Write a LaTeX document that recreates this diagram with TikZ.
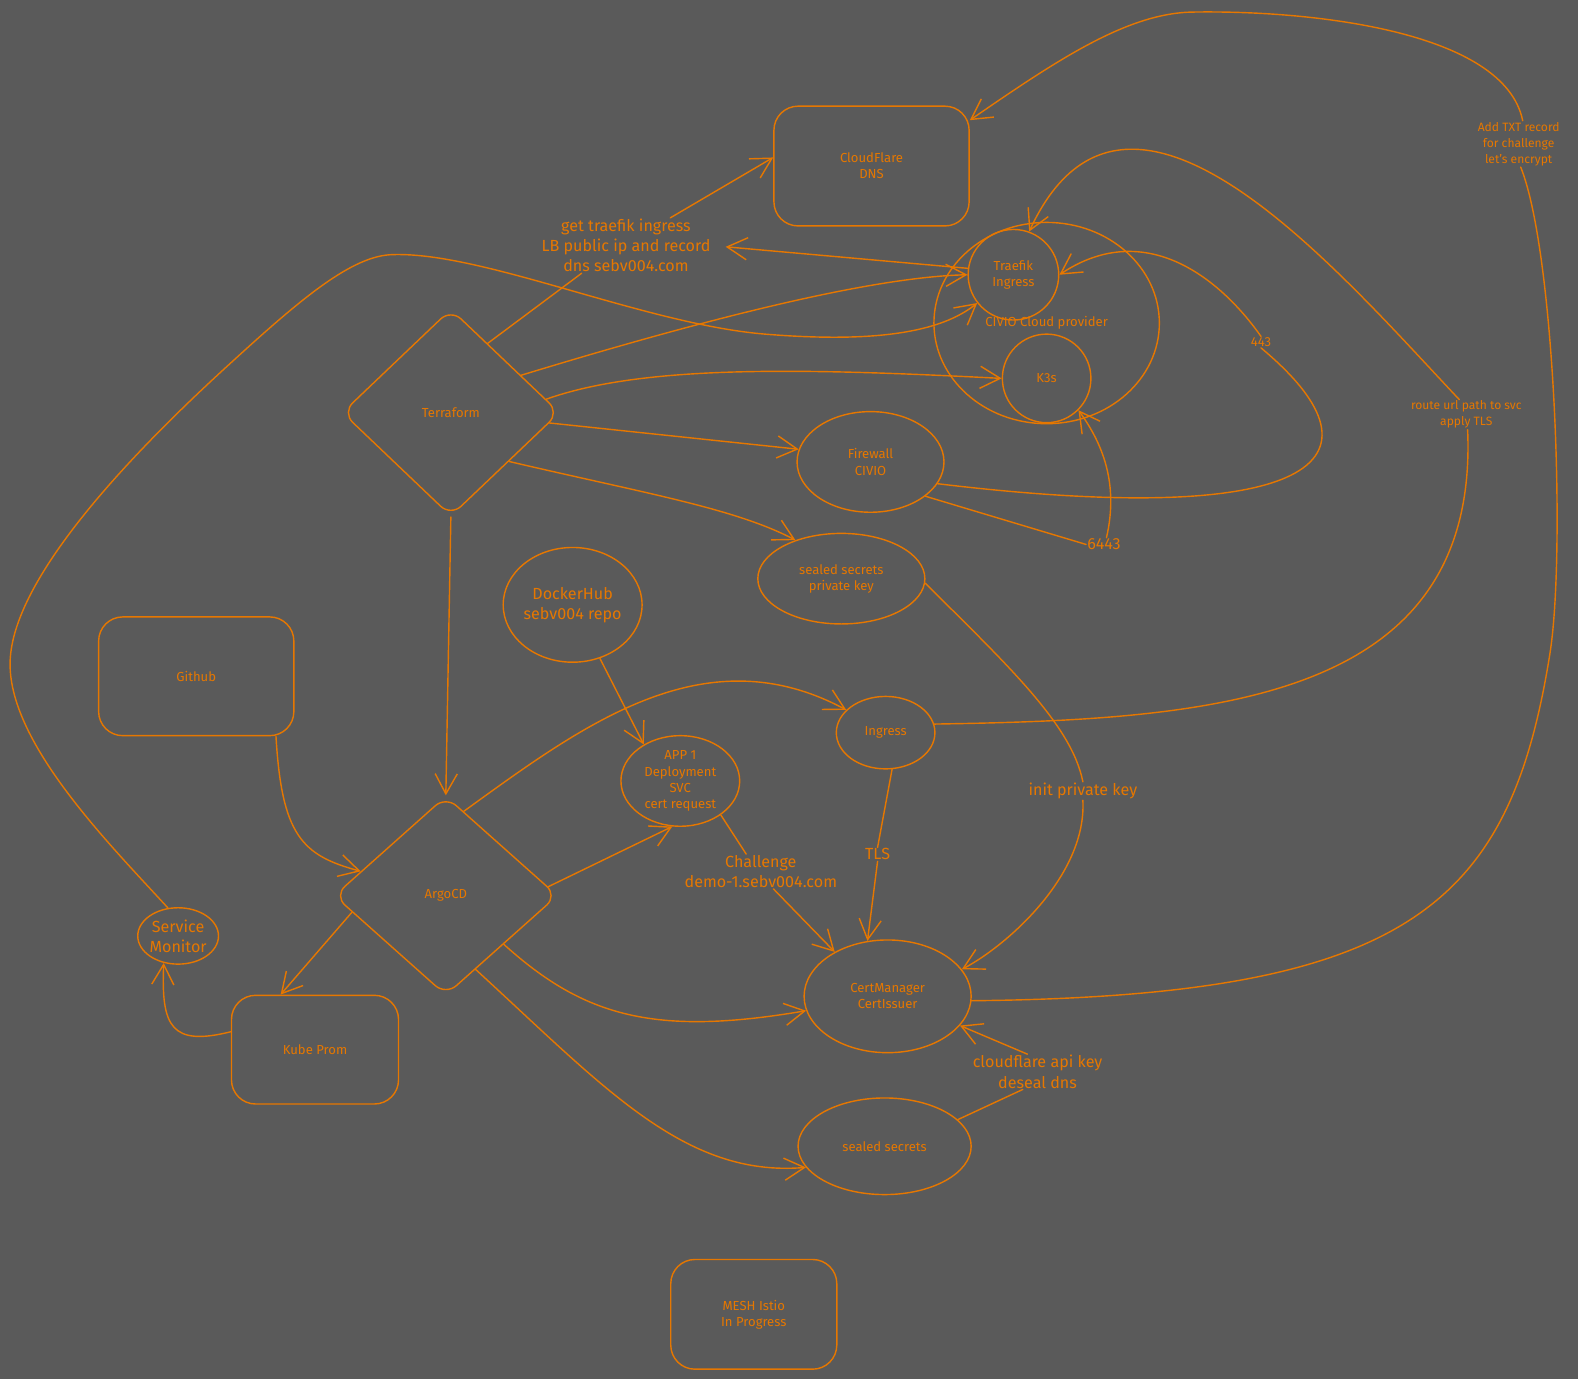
\documentclass[tikz,border=0pt]{standalone}
\usepackage{fontspec}
\setmainfont{Fira Sans}
\usepackage{tikz}
\usetikzlibrary{arrows.meta,positioning,shapes.geometric}
\definecolor{bakgrunn}{HTML}{5A5A5A}
\definecolor{oransje}{HTML}{E67700}
\newcommand\litenfont{\fontsize{13}{16}\selectfont}
\newcommand\minifont{\fontsize{12}{16}\selectfont}
\newcommand\storfont{\fontsize{16}{20}\selectfont}
\tikzset{
>={Straight Barb[length=20pt,width=22pt]},
  boks/.style={
    rectangle,
    rounded corners=24pt,
    draw=oransje, line width=1.4pt,
    text=oransje,
    font=\litenfont,
    align=center},
  sirkel/.style={
    ellipse,
    draw=oransje, line width=1.4pt,
    inner sep=0pt,
    text=oransje,
    font=\litenfont,
    align=center},
  romb/.style={
    diamond,
    rounded corners=14pt,
    draw=oransje, line width=1.4pt,
    inner sep=0pt,
    text=oransje,
    font=\litenfont},
  tekst/.style={text=oransje, font=\litenfont, align=center, inner sep=1pt},
  minitekst/.style={text=oransje, font=\minifont, align=center, inner sep=1pt},
  stortekst/.style={text=oransje, font=\storfont, align=center, inner sep=1pt},
  linje/.style={draw=oransje, line width=1.4pt, line cap=round},
  pil/.style={linje, ->, line join=round},
}

\begin{document}
\begin{tikzpicture}[x=1pt, y=-1pt]
    \useasboundingbox (0,0) rectangle (1568,1370);
    \fill[bakgrunn] (0,0) rectangle (1568,1370);

    \node[boks, minimum width=194pt, minimum height=119pt] (cf) at (866,165) {CloudFlare\\DNS};
    \node[sirkel, minimum width=224pt, minimum height=200pt] (civo) at (1040,321) {CIVIO Cloud provider};
    \node[sirkel, minimum size=90pt] (tr) at (1007,273) {Traefik\\Ingress};
    \node[sirkel, minimum size=88pt] (k3) at (1040,376) {K3s};
    \node[romb, minimum width=216pt, minimum height=206pt] (tf) at (448,410) {Terraform};
    \node[sirkel, minimum width=146pt, minimum height=100pt] (fw) at (865,459) {Firewall\\CIVIO};
    \node[sirkel, minimum width=166pt, minimum height=90pt] (spk) at (836,575) {sealed secrets\\private key};
    \node[sirkel, font=\storfont, minimum width=138pt, minimum height=114pt] (dh) at (569,601) {DockerHub\\sebv004 repo};
    \node[boks, minimum width=194pt, minimum height=118pt] (gh) at (195,672) {Github};
    \node[sirkel, minimum width=98pt, minimum height=72pt] (ing) at (880,728) {Ingress};
    \node[sirkel, minimum width=118pt, minimum height=90pt] (app) at (676,776) {APP 1\\Deployment\\SVC\\cert request};
    \node[romb, minimum width=222pt, minimum height=198pt] (argo) at (443,890) {ArgoCD};
    \node[sirkel, font=\storfont, minimum width=78pt, minimum height=56pt] (sm) at (177,930) {Service\\Monitor};
    \node[boks, minimum width=166pt, minimum height=108pt] (kp) at (313,1043) {Kube Prom};
    \node[sirkel, minimum width=166pt, minimum height=112pt] (cm) at (882,990) {CertManager\\CertIssuer};
    \node[sirkel, minimum width=172pt, minimum height=96pt] (ss) at (879,1139) {sealed secrets};
    \node[boks, minimum width=165pt, minimum height=109pt] (mesh) at (749,1306) {MESH Istio\\In Progress};

    % labels on the connectors
    \node[stortekst] (lbl) at (622,244) {get traefik ingress\\LB public ip and record\\dns sebv004.com};
    \node[tekst] (l443) at (1253,340) {443};
    \node[stortekst] (l6443) at (1097,541) {6443};
    \node[minitekst] (lrute) at (1457,412) {route url path to svc\\apply TLS};
    \node[minitekst] (ltxt) at (1509,143) {Add TXT record\\for challenge\\let's encrypt};
    \node[stortekst] (linit) at (1076,786) {init private key};
    \node[stortekst] (ltls) at (872,849) {TLS};
    \node[stortekst] (lchal) at (756,866) {Challenge\\demo-1.sebv004.com};
    \node[stortekst] (lcf) at (1031,1065) {cloudflare api key\\deseal dns};

    \draw[linje] (tf.62) -- (lbl.-148);
    \draw[pil] (lbl.32) -- (cf.175);
    \draw[pil, shorten >=14pt] (tr.172) -- (lbl.east);
    \draw[pil] (tf.28) .. controls (740,305) and (880,275) .. (tr.west);
    \draw[pil] (tf.8) .. controls (640,362) and (800,366) .. (k3.west);
    \draw[pil] (tf.-6) -- (fw.170);
    \draw[pil] (tf.-40) .. controls (640,490) and (730,505) .. (spk.140);
    \draw[pil] (tf.south) -- (argo.north);

    \draw[linje] (fw.-18) .. controls (1300,525) and (1390,460) .. (l443.south);
    \draw[pil] (l443.north) .. controls (1215,280) and (1140,215) .. (tr.east);
    \draw[linje] (fw.-32) -- (l6443.west);
    \draw[pil] (l6443.70) .. controls (1112,480) and (1095,440) .. (k3.-45);

    \draw[pil] (sm.110) .. controls (110,840) and (10,740) .. (10,660)
        .. controls (10,580) and (120,460) .. (230,360)
        .. controls (300,296) and (350,254) .. (390,253)
        .. controls (480,250) and (640,322) .. (760,332)
        .. controls (870,341) and (935,330) .. (tr.218);

    \draw[pil] (gh.-37) .. controls (280,830) and (300,850) .. (argo.164);
    \draw[pil] (argo.190) -- (kp.122);
    \draw[pil] (kp.168) .. controls (170,1040) and (160,1020) .. (sm.-118);
    \draw[pil] (argo.78) .. controls (580,720) and (700,630) .. (ing.150);
    \draw[pil] (argo.5) -- (app.-100);
    \draw[pil] (argo.-40) .. controls (580,1010) and (650,1030) .. (cm.190);
    \draw[pil] (argo.-68) .. controls (600,1080) and (680,1170) .. (ss.195);
    \draw[pil] (dh.-63) -- (app.135);

    \draw[linje] (app.-40) -- (lchal.130);
    \draw[pil] (lchal.-54) -- (cm.140);
    \draw[linje] (ing.-80) -- (ltls.north);
    \draw[pil] (ltls.south) -- (cm.110);
    \draw[linje] (ing.10) .. controls (1200,715) and (1470,700) .. (lrute.-85);
    \draw[pil] (lrute.115) .. controls (1330,270) and (1120,20) .. (tr.70);
    \draw[linje] (spk.-3) .. controls (1000,660) and (1065,720) .. (linit.north);
    \draw[pil] (linit.south) .. controls (1080,870) and (1000,940) .. (cm.20);
    \draw[linje] (ss.20) -- (lcf.-130);
    \draw[pil] (lcf.120) -- (cm.-22);

    \draw[linje] (cm.-3) .. controls (1400,990) and (1500,900) .. (1540,650)
        .. controls (1556,550) and (1545,250) .. (ltxt.-85);
    \draw[pil] (ltxt.80) .. controls (1495,30) and (1300,10) .. (1185,12)
        .. controls (1120,13) and (1050,60) .. (cf.25);
\end{tikzpicture}
\end{document}
